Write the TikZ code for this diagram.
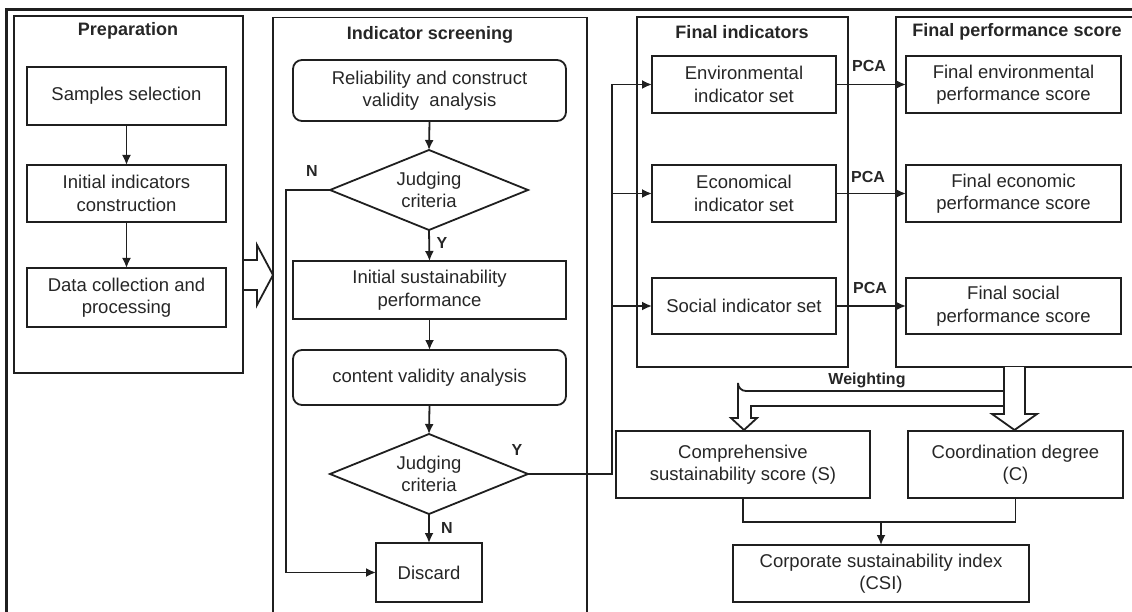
\documentclass[tikz,border=0pt]{standalone}
\usepackage{fontspec}
\setmainfont{Liberation Sans}
\usetikzlibrary{shapes.geometric,arrows.meta}
\begin{document}
\begin{tikzpicture}[x=1pt,y=-1pt,
  ink/.style={draw=black!88,line width=1.8pt},
  txt/.style={text=black!85,font=\fontsize{18.5pt}{22.5pt}\selectfont,align=center},
  box/.style={ink,txt,rectangle,inner sep=0pt,outer sep=0pt},
  rbox/.style={box,rounded corners=9pt},
  panel/.style={ink,rectangle,inner sep=0pt,outer sep=0pt},
  decision/.style={ink,txt,diamond,aspect=2.5,inner sep=0pt,outer sep=0pt,
                   minimum width=198pt,minimum height=80pt},
  title/.style={font=\bfseries\fontsize{18pt}{22pt}\selectfont,text=black!85,inner sep=0pt},
  tag/.style={font=\bfseries\fontsize{16pt}{18pt}\selectfont,text=black!85,inner sep=0pt},
  link/.style={ink,-{Latex[length=10pt,width=9pt]}},
  wire/.style={ink},
  hollow/.style={ink,fill=white,line join=miter}
]
\useasboundingbox (0,0) rectangle (1132,612);
\clip (0,0) rectangle (1132,612);

% outer frame
\draw[draw=black!88,line width=2.4pt] (6.5,9.5) rectangle (1170,680);

% panels
\node[panel,minimum width=229pt,minimum height=357pt] (prep) at (128.5,194.5) {};
\node[panel,minimum width=314pt,minimum height=640pt] (scr) at (430,337.5) {};
\node[panel,minimum width=211pt,minimum height=350pt] (fin) at (742.5,192) {};
\node[panel,minimum width=280pt,minimum height=350pt] (fps) at (1036,192) {};

% panel titles
\node[title] (tprep) at (128,31) {Preparation};
\node[title] (tscr) at (430,35) {Indicator screening};
\node[title] (tfin) at (742,32) {Final indicators};
\node[title] (tfps) at (1017,32) {Final performance score};

% preparation
\node[box,minimum width=199pt,minimum height=58pt] (ss) at (126.5,96) {Samples selection};
\node[box,minimum width=199pt,minimum height=57pt] (ic) at (126.5,193.5) {Initial indicators\\construction};
\node[box,minimum width=199pt,minimum height=59pt] (dc) at (126.5,297.5) {Data collection and\\processing};
\draw[link] (ss.south) -- (ic.north);
\draw[link] (ic.south) -- (dc.north);

% hollow arrow into the screening panel
\draw[hollow] (243,260) -- (257,260) -- (257,245) -- (273,275) -- (257,305)
  -- (257,290) -- (243,290) -- cycle;

% indicator screening
\node[rbox,minimum width=273pt,minimum height=61pt] (rel) at (429.5,90.5) {Reliability and construct\\validity\ \ analysis};
\node[decision] (j1) at (429,190) {Judging\\criteria};
\node[box,minimum width=273pt,minimum height=58pt] (isp) at (429.5,290) {Initial sustainability\\performance};
\node[rbox,minimum width=273pt,minimum height=55pt] (cva) at (429.5,377.5) {content validity analysis};
\node[decision] (j2) at (429,474) {Judging\\criteria};
\node[box,minimum width=106pt,minimum height=59pt] (dis) at (429,572.5) {Discard};

\draw[link] (rel.south) -- (j1.north);
\draw[link] (j1.south) -- (isp.north);
\draw[link] (isp.south) -- (cva.north);
\draw[link] (cva.south) -- (j2.north);
\draw[link] (j2.south) -- (dis.north);
\coordinate (nloop) at (286,190);
\draw[link] (j1.west) -- (nloop) |- (dis.west);

\node[tag] (n1) at (312,171) {N};
\node[tag] (y1) at (442,243) {Y};
\node[tag] (y2) at (517,450) {Y};
\node[tag] (n2) at (447,528) {N};

% final indicators
\node[box,minimum width=184pt,minimum height=57pt] (env) at (744,84.5) {Environmental\\indicator set};
\node[box,minimum width=184pt,minimum height=57pt] (eco) at (744,193.5) {Economical\\indicator set};
\node[box,minimum width=184pt,minimum height=56pt] (soc) at (744,306) {Social indicator set};

\coordinate (bus) at (612,474);
\draw[link] (j2.east) -- (bus) |- (env.west);
\draw[link] (bus |- eco.west) -- (eco.west);
\draw[link] (bus |- soc.west) -- (soc.west);

% final performance scores
\node[box,minimum width=215pt,minimum height=57pt] (fenv) at (1013.5,84.5) {Final environmental\\performance score};
\node[box,minimum width=215pt,minimum height=57pt] (feco) at (1013.5,193.5) {Final economic\\performance score};
\node[box,minimum width=215pt,minimum height=56pt] (fsoc) at (1013.5,306) {Final social\\performance score};

\draw[link] (env.east) -- (fenv.west);
\draw[link] (eco.east) -- (feco.west);
\draw[link] (soc.east) -- (fsoc.west);
\node[tag] (pca1) at (869,66) {PCA};
\node[tag] (pca2) at (868,177) {PCA};
\node[tag] (pca3) at (870,288) {PCA};

% weighting arrows
\node[tag] (wt) at (867,380) {Weighting};
\draw[hollow] (1004,391) -- (746,391) arc[start angle=90,end angle=180,radius=8]
  -- (738,418) -- (731,418) -- (744,430) -- (757,418) -- (751,418)
  -- (751,406) -- (1004,406);
\draw[hollow] (1004,367) -- (1004,414) -- (992,414) -- (1014.5,430) -- (1037,414)
  -- (1025,414) -- (1025,367);

% aggregate scores
\node[box,minimum width=254pt,minimum height=67pt] (comp) at (743,464.5) {Comprehensive\\sustainability score (S)};
\node[box,minimum width=215pt,minimum height=67pt] (coord) at (1015.5,464.5) {Coordination degree\\(C)};
\node[box,minimum width=296pt,minimum height=57pt] (csi) at (881,573.5) {Corporate sustainability index\\(CSI)};

\coordinate (join) at (881,522);
\draw[wire] (comp.south) |- (join) -| (coord.south);
\draw[link] (join) -- (csi.north);

\end{tikzpicture}
\end{document}
